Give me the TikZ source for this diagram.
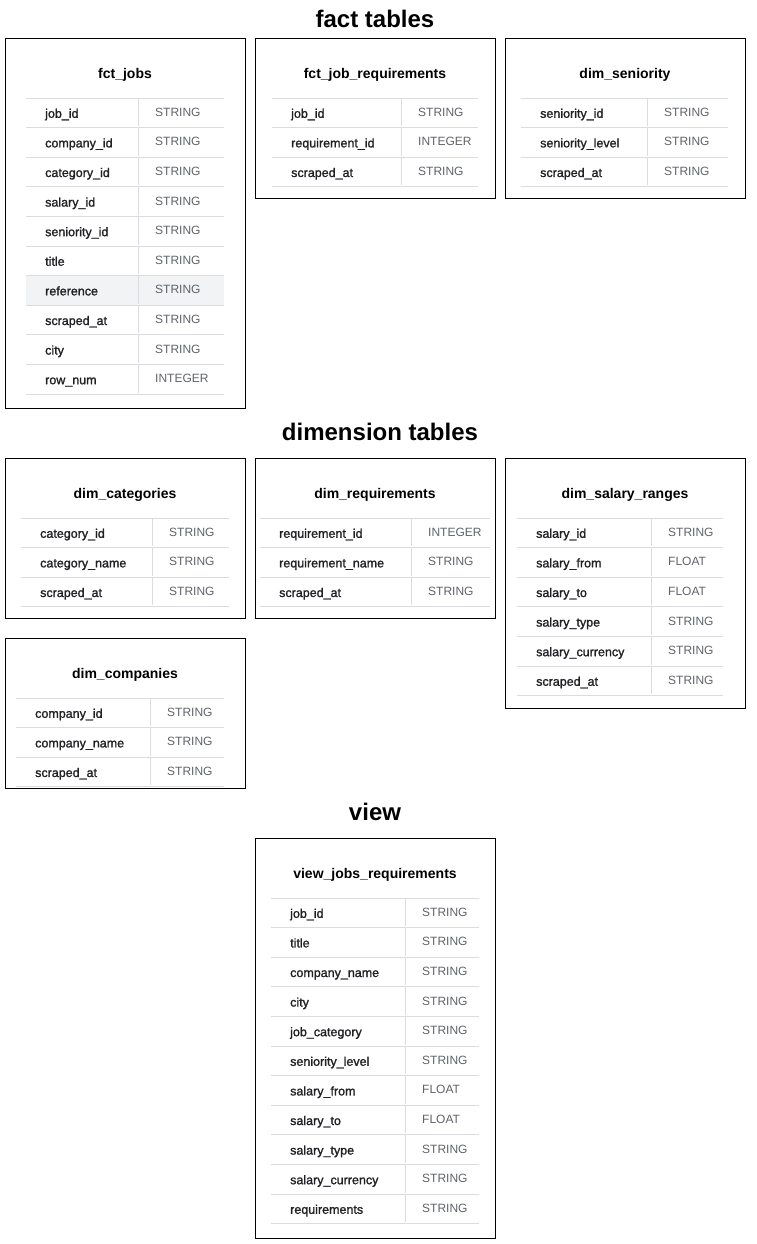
\documentclass[tikz,border=0pt]{standalone}
\usepackage{fontspec}
\setmainfont{Liberation Sans}
\newfontfamily\medfont{Liberation Sans}[FakeBold=1.4]
\definecolor{namecol}{HTML}{202124}
\definecolor{typecol}{HTML}{5F6368}
\definecolor{rulecol}{HTML}{DADCE0}
\definecolor{hilite}{HTML}{F1F3F4}
\tikzset{
  boxst/.style={draw=black, line width=1pt, inner sep=0pt, anchor=north west, minimum width=240pt},
  titlest/.style={font=\bfseries\fontsize{14}{16}\selectfont, text=black, inner sep=0pt},
  headst/.style={font=\bfseries\fontsize{24}{28}\selectfont, text=black, inner sep=0pt},
  namest/.style={font=\medfont\fontsize{12.5}{14}\selectfont, text=namecol, anchor=base west, inner sep=0pt},
  typest/.style={font=\fontsize{12}{14}\selectfont, text=typecol, anchor=base west, inner sep=0pt},
  rowline/.style={draw=rulecol, line width=0.8pt}
}
% #1 id, #2 box left, #3 box top, #4 box bottom, #5 title, #6 table left, #7 table right, #8 divider x, #9 rows
\newcommand{\dbtab}[9]{%
  \node[boxst, minimum height={(#4-#3)*1pt}] (#1) at (#2,#3) {};
  \node[titlest] (#1-title) at ({#2+120},{#3+36.5}) {#5};
  \draw[rowline] (#6,{#3+60}) -- (#7,{#3+60});
  \foreach \cname/\ctype [count=\ci] in {#9}{%
    \draw[rowline] (#6,{#3+60+\ci*29.6}) -- (#7,{#3+60+\ci*29.6});
    \draw[rowline] (#8,{#3+60+(\ci-1)*29.6}) -- (#8,{#3+60+\ci*29.6-1.5});
    \node[namest] (#1-n\ci) at ({#6+19},{#3+60+(\ci-0.5)*29.6+5}) {\cname};
    \node[typest] (#1-t\ci) at ({#8+17},{#3+60+(\ci-0.5)*29.6+3.5}) {\ctype};
  }%
}
\begin{document}
\begin{tikzpicture}[x=1pt,y=-1pt]
\useasboundingbox (0,0) rectangle (756,1244);
\node[headst] (h-fact) at (375,19) {fact tables};
\node[headst] (h-dim) at (380,432) {dimension tables};
\node[headst] (h-view) at (375,812) {view};
% highlight of reference row
\fill[hilite] (26,{98+6*29.6}) rectangle (224,{98+7*29.6});
\dbtab{fj}{5}{38}{408}{fct\_jobs}{26}{224}{138}{job\_id/STRING,company\_id/STRING,category\_id/STRING,salary\_id/STRING,seniority\_id/STRING,title/STRING,reference/STRING,scraped\_at/STRING,city/STRING,row\_num/INTEGER}
\dbtab{fjr}{255}{38}{198}{fct\_job\_requirements}{272}{478}{401}{job\_id/STRING,requirement\_id/INTEGER,scraped\_at/STRING}
\dbtab{ds}{505}{38}{198}{dim\_seniority}{521}{728}{647}{seniority\_id/STRING,seniority\_level/STRING,scraped\_at/STRING}
\dbtab{dc}{5}{458}{618}{dim\_categories}{21}{229}{152}{category\_id/STRING,category\_name/STRING,scraped\_at/STRING}
\dbtab{dr}{255}{458}{618}{dim\_requirements}{260}{490}{411}{requirement\_id/INTEGER,requirement\_name/STRING,scraped\_at/STRING}
\dbtab{dsr}{505}{458}{708}{dim\_salary\_ranges}{517}{723}{651}{salary\_id/STRING,salary\_from/FLOAT,salary\_to/FLOAT,salary\_type/STRING,salary\_currency/STRING,scraped\_at/STRING}
\dbtab{dco}{5}{638}{788}{dim\_companies}{16}{224}{150}{company\_id/STRING,company\_name/STRING,scraped\_at/STRING}
\dbtab{v}{255}{838}{1238}{view\_jobs\_requirements}{271}{479}{405}{job\_id/STRING,title/STRING,company\_name/STRING,city/STRING,job\_category/STRING,seniority\_level/STRING,salary\_from/FLOAT,salary\_to/FLOAT,salary\_type/STRING,salary\_currency/STRING,requirements/STRING}
\end{tikzpicture}
\end{document}
